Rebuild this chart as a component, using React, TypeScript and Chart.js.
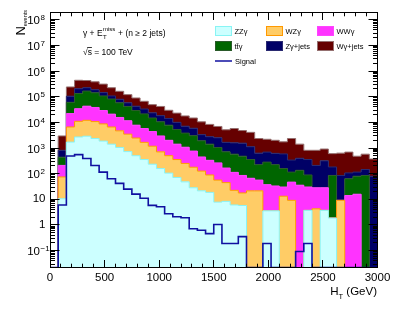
import React, { useEffect, useRef } from "react";
import { Chart, registerables } from "chart.js";

Chart.register(...registerables);

// ---------- data (75 GeV bins, 0 - 3000 GeV) ----------
const binEdges = [
  0, 75, 150, 225, 300, 375, 450, 525, 600, 675,
  750, 825, 900, 975, 1050, 1125, 1200, 1275, 1350, 1425,
  1500, 1575, 1650, 1725, 1800, 1875, 1950, 2025, 2100, 2175,
  2250, 2325, 2400, 2475, 2550, 2625, 2700, 2775, 2850, 2925, 3000,
];

const zzgValues = [
  0, 10.5, 1700, 2690, 2880, 2340, 1860, 1410, 1050, 724,
  501, 355, 234, 158, 105, 70.8, 47.9, 28.2, 21.4, 18.6,
  7.76, 8.32, 6.03, 5.75, 0, 0, 3.55, 3.55, 0, 0,
  0, 3.72, 0, 3.72, 1.86, 0, 0, 0, 0, 0,
];
const wzgValues = [
  0, 64, 4910, 8270, 9140, 8370, 6850, 5190, 3630, 2740,
  1950, 1305, 941, 550, 396, 284, 203, 150, 105, 70.5,
  48.4, 36.4, 16.4, 12.0, 21.4, 21.4, 0, 0, 13.2, 9.12,
  0, 0, 4.27, 0, 0, 9.12, 0, 0, 0, 0,
];
const wwgValues = [
  0, 135, 15270, 22920, 30640, 27300, 20130, 14290, 10810, 8020,
  5310, 4094, 3190, 2243, 1494, 1058, 821, 581, 321, 242,
  207, 121, 89.8, 67.3, 44.7, 34.8, 33.6, 29.6, 17.0, 37.7,
  35.5, 26.5, 23.9, 24.5, 0, 0, 14.1, 15.8, 0, 0,
];
const ttgValues = [
  0, 228, 38380, 97940, 123300, 103240, 78310, 60390, 42060, 30200,
  21080, 15630, 10430, 7520, 5767, 3835, 2730, 2261, 1458, 1082,
  784, 542, 463, 394, 289, 168, 245, 191, 128, 68,
  99.5, 58.9, 0, 0, 83.2, 0, 49, 63.6, 85.1, 0,
];
const zgJetsValues = [
  0, 376, 44460, 72350, 57910, 44960, 37390, 25870, 21890, 15860,
  13820, 11730, 8650, 7726, 6363, 4752, 3277, 2868, 1406, 1341,
  1465, 952, 1010, 1070, 767, 407, 410, 393, 431, 224,
  263, 266, 181, 288, 97, 76, 44, 35.6, 59.9, 79.4,
];
const wgJetsValues = [
  0, 2140, 135170, 232340, 202710, 193980, 164490, 116720, 82750, 62680,
  46470, 32960, 25540, 23490, 15390, 12910, 10700, 8903, 7160, 5564,
  4406, 3469, 4169, 3237, 2952, 1713, 1496, 1378, 1149, 2005,
  1015, 458, 604, 596, 421, 546, 585, 364, 430, 293,
];
const signalValues = [
  0, 6, 490, 550, 390, 209, 115, 63, 42, 25,
  16, 11, 5.8, 5.1, 2.75, 2.1, 1.9, 0.71, 0.62, 0.46,
  1.05, 0.19, 0.19, 0.35, 0, 0, 0.19, 0, 0, 0,
  0.093, 0.19, 0, 0, 0, 0, 0, 0, 0, 0,
];

const xTickValues = [0, 500, 1000, 1500, 2000, 2500, 3000];
const yTickExponents = [-1, 0, 1, 2, 3, 4, 5, 6, 7, 8];

const Y_MIN = 0.022;
const Y_MAX = 2e8;
const FONT = '"Liberation Sans", Arial, Helvetica, sans-serif';

// stack order: bottom -> top
const stackSeries = [
  { label: "ZZγ", values: zzgValues, fill: "#ccffff", line: "#88f4f4" },
  { label: "WZγ", values: wzgValues, fill: "#ffcc66", line: "#ff9900" },
  { label: "WWγ", values: wwgValues, fill: "#ff33ff", line: "#ff44ff" },
  { label: "tt̄γ", values: ttgValues, fill: "#006600", line: "#2a5a2a" },
  { label: "Zγ+jets", values: zgJetsValues, fill: "#000066", line: "#2a2a70" },
  { label: "Wγ+jets", values: wgJetsValues, fill: "#660000", line: "#957070" },
];
const signalColor = "#1010a0";

function toSteps(vals: number[]) {
  const pts = vals.map((v, i) => ({ x: binEdges[i], y: v > 0 ? v : Y_MIN }));
  const last = vals[vals.length - 1];
  pts.push({ x: binEdges[vals.length], y: last > 0 ? last : Y_MIN });
  return pts;
}

function buildDatasets() {
  const n = zzgValues.length;
  let running = new Array(n).fill(0);
  const ds: any[] = stackSeries.map((s, k) => {
    running = running.map((v, i) => v + s.values[i]);
    return {
      label: s.label,
      data: toSteps(running),
      borderColor: s.line,
      backgroundColor: s.fill,
      borderWidth: 1,
      stepped: "before",
      fill: k === 0 ? "start" : "-1",
      pointRadius: 0,
      order: 1,
    };
  });
  ds.push({
    label: "Signal",
    data: toSteps(signalValues),
    borderColor: signalColor,
    borderWidth: 1.6,
    stepped: "before",
    fill: false,
    pointRadius: 0,
    order: 0,
  });
  return ds;
}

const snap = (v: number) => Math.round(v - 0.5) + 0.5;

const decorPlugin = {
  id: "rootDecor",
  afterDraw(chart: any) {
    const { ctx, chartArea: a, scales } = chart;
    const xs = scales.x;
    const ys = scales.y;
    const L = snap(a.left);
    const R = snap(a.right);
    const T = snap(a.top);
    const B = snap(a.bottom);
    ctx.save();
    ctx.strokeStyle = "#000";
    ctx.lineWidth = 1;
    ctx.beginPath();
    // x ticks (bottom and top, inward)
    for (let v = 0; v <= 3000; v += 100) {
      const x = snap(xs.getPixelForValue(v));
      const len = v % 500 === 0 ? 7.5 : 3.8;
      ctx.moveTo(x, B);
      ctx.lineTo(x, B - len);
      ctx.moveTo(x, T);
      ctx.lineTo(x, T + len);
    }
    // y ticks (left and right, inward)
    for (let e = -2; e <= 8; e++) {
      for (let m = 1; m <= 9; m++) {
        const val = m * Math.pow(10, e);
        if (val < Y_MIN || val > Y_MAX) continue;
        const y = snap(ys.getPixelForValue(val));
        const len = m === 1 ? 9 : 4.5;
        ctx.moveTo(L, y);
        ctx.lineTo(L + len, y);
        ctx.moveTo(R, y);
        ctx.lineTo(R - len, y);
      }
    }
    ctx.stroke();
    ctx.strokeRect(L, T, R - L, B - T);

    ctx.fillStyle = "#000";
    // x tick labels
    ctx.font = `11.5px ${FONT}`;
    ctx.textAlign = "center";
    ctx.textBaseline = "middle";
    xTickValues.forEach((v) => {
      ctx.fillText(String(v), xs.getPixelForValue(v), 277.5);
    });
    // y tick labels
    yTickExponents.forEach((e) => {
      const y = ys.getPixelForValue(Math.pow(10, e));
      if (e === 0 || e === 1) {
        ctx.font = `11.5px ${FONT}`;
        ctx.textAlign = "right";
        ctx.textBaseline = "middle";
        ctx.fillText(e === 0 ? "1" : "10", 45.5, y);
      } else {
        ctx.font = `11.5px ${FONT}`;
        ctx.textAlign = "right";
        ctx.textBaseline = "middle";
        ctx.fillText("10", 40, y + 1.5);
        ctx.font = `8px ${FONT}`;
        ctx.textAlign = "left";
        ctx.textBaseline = "alphabetic";
        ctx.fillText(e < 0 ? "−" + String(-e) : String(e), 40.5, y + 0.5);
      }
    });

    // x-axis title: H_T (GeV)
    ctx.textBaseline = "alphabetic";
    ctx.textAlign = "left";
    ctx.font = `11.5px ${FONT}`;
    const wH = ctx.measureText("H").width;
    const wRest = ctx.measureText(" (GeV)").width;
    ctx.font = `7.5px ${FONT}`;
    const wT = ctx.measureText("T").width;
    let xt = 377 - (wH + wT + wRest);
    ctx.font = `11.5px ${FONT}`;
    ctx.fillText("H", xt, 295);
    xt += wH;
    ctx.font = `7.5px ${FONT}`;
    ctx.fillText("T", xt, 298.5);
    xt += wT;
    ctx.font = `11.5px ${FONT}`;
    ctx.fillText(" (GeV)", xt, 295);

    // y-axis title: N_events (rotated)
    ctx.save();
    ctx.translate(25, 10);
    ctx.rotate(-Math.PI / 2);
    ctx.textAlign = "right";
    ctx.font = `5.5px ${FONT}`;
    const wEv = ctx.measureText("events").width;
    ctx.fillText("events", 0, 2);
    ctx.font = `13px ${FONT}`;
    ctx.fillText("N", -wEv, 0);
    ctx.restore();

    // annotation text
    ctx.textAlign = "left";
    ctx.textBaseline = "alphabetic";
    let xa = 83;
    ctx.font = `8.5px ${FONT}`;
    ctx.fillText("γ + E", xa, 35.5);
    xa += ctx.measureText("γ + E").width;
    ctx.font = `6px ${FONT}`;
    ctx.fillText("miss", xa + 0.3, 31);
    ctx.fillText("T", xa + 0.3, 38.5);
    xa += ctx.measureText("miss").width + 0.8;
    ctx.font = `8.5px ${FONT}`;
    ctx.fillText(" + (n ≥ 2 jets)", xa, 35.5);

    ctx.font = `8.5px ${FONT}`;
    const wRoot = ctx.measureText("√").width;
    const wS = ctx.measureText("s").width;
    ctx.fillText("√s = 100 TeV", 83, 54.5);
    ctx.beginPath();
    ctx.lineWidth = 0.8;
    ctx.moveTo(83 + wRoot - 0.5, 47.5);
    ctx.lineTo(83 + wRoot + wS, 47.5);
    ctx.stroke();

    // legend
    const colX = [215, 266, 317];
    const rowY = [31, 46];
    ctx.font = `7.5px ${FONT}`;
    stackSeries.forEach((s, i) => {
      const cx = colX[i % 3];
      const cy = rowY[Math.floor(i / 3)];
      ctx.fillStyle = s.fill;
      ctx.fillRect(cx, cy - 5, 17, 10);
      ctx.strokeStyle = s.line;
      ctx.lineWidth = 1;
      ctx.strokeRect(cx + 0.5, cy - 4.5, 16, 9);
      ctx.fillStyle = "#000";
      ctx.fillText(s.label, cx + 19.5, cy + 2.7);
    });
    ctx.strokeStyle = signalColor;
    ctx.lineWidth = 1.5;
    ctx.beginPath();
    ctx.moveTo(215, 61);
    ctx.lineTo(232, 61);
    ctx.stroke();
    ctx.fillStyle = "#000";
    ctx.fillText("Signal", 235, 63.7);

    ctx.restore();
  },
};

export default function App() {
  const canvasRef = useRef<HTMLCanvasElement | null>(null);

  useEffect(() => {
    document.body.style.margin = "0";
    const canvas = canvasRef.current;
    if (!canvas) return;
    const chart = new Chart(canvas, {
      type: "line",
      data: { datasets: buildDatasets() },
      options: {
        responsive: false,
        animation: false,
        devicePixelRatio: 1,
        events: [],
        layout: { padding: { left: 50, right: 29.5, top: 12, bottom: 47.5 } },
        plugins: {
          legend: { display: false },
          tooltip: { enabled: false },
          title: { display: false },
        },
        scales: {
          x: { type: "linear", min: 0, max: 3000, display: false },
          y: { type: "logarithmic", min: Y_MIN, max: Y_MAX, display: false },
        },
        elements: { point: { radius: 0 }, line: { tension: 0 } },
      } as any,
      plugins: [decorPlugin],
    });
    return () => chart.destroy();
  }, []);

  return (
    <div style={{ width: 407, height: 315, background: "#fff" }}>
      <canvas ref={canvasRef} width={407} height={315} style={{ display: "block" }} />
    </div>
  );
}
